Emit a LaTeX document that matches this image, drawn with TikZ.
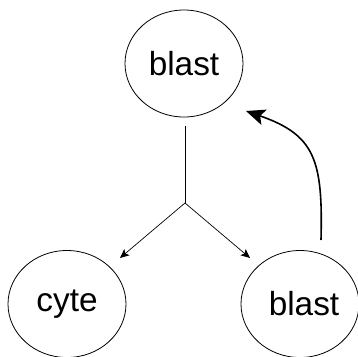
\documentclass[tikz,border=0pt]{standalone}
\usepackage{fontspec}
\setmainfont{Liberation Sans}
\usetikzlibrary{shapes.geometric,arrows.meta}
\begin{document}
\begin{tikzpicture}[x=1bp,y=-1bp,
  cell/.style={draw,ellipse,line width=0.8pt,inner sep=0pt,minimum width=118bp,minimum height=107bp,font=\fontsize{33.5}{36}\selectfont},
  thin/.style={line width=0.7pt},
  smallarrow/.style={thin,-{Stealth[length=9bp,width=8bp,inset=2bp]}},
  bigarrow/.style={line width=1.6pt,-{Stealth[length=19bp,width=16bp,inset=4bp]}}]
\useasboundingbox (0,0) rectangle (358,357);
\node[cell] (top) at (184,63.5) {blast\hspace{10bp}};
\node[cell] (cyte) at (67,304) {cyte\hspace{18bp}};
\node[cell] (blast) at (300,304) {\hspace{8bp}blast};
\coordinate (vstart) at (185,126);
\coordinate (branch) at (185,203);
\coordinate (ltip) at (120,258);
\coordinate (rtip) at (250,258);
\coordinate (cstart) at (321,240);
\coordinate (ctip) at (246,111);
\draw[thin] (vstart) -- (branch);
\draw[smallarrow] (branch) -- (ltip);
\draw[smallarrow] (branch) -- (rtip);
\draw[bigarrow] (cstart) .. controls (323,160) and (315,135) .. (ctip);
\end{tikzpicture}
\end{document}
